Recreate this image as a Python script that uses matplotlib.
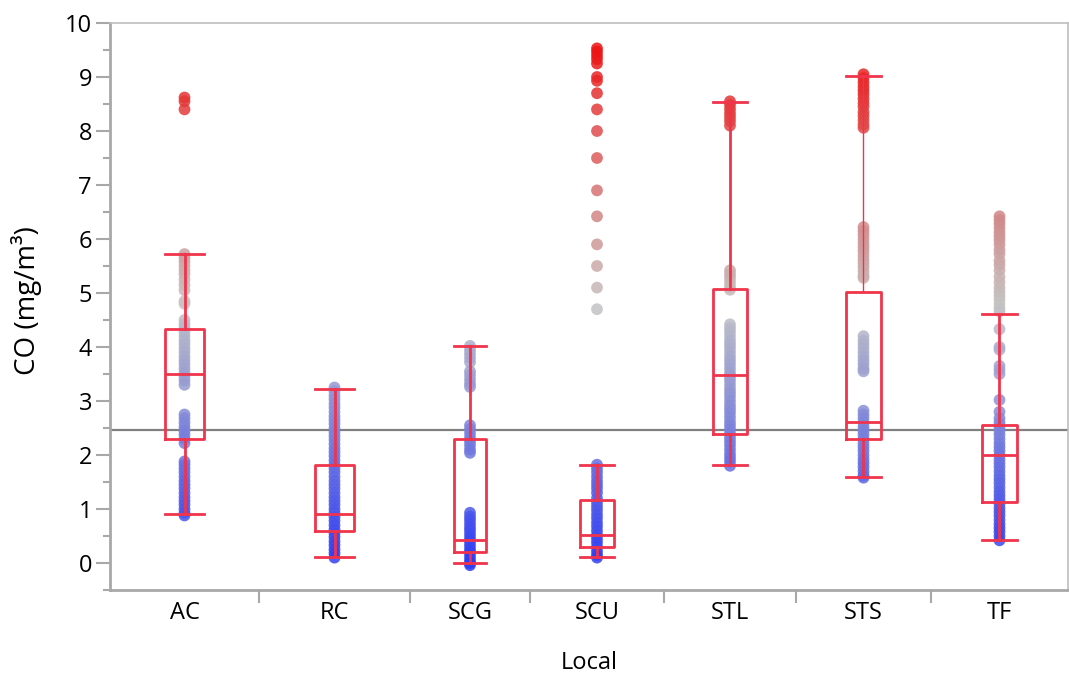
import numpy as np
import matplotlib.pyplot as plt
from matplotlib.colors import LinearSegmentedColormap, Normalize

plt.rcParams['font.family'] = ['Open Sans', 'DejaVu Sans']

# categories
sites = ['AC', 'RC', 'SCG', 'SCU', 'STL', 'STS', 'TF']

# CO readings per site (mg/m3)
co_ac = [8.62, 8.55, 8.4, 5.72, 5.65, 5.58, 5.5, 5.42, 5.35, 5.25, 5.15, 5.05, 4.85, 4.8,
         4.5, 4.42, 4.35, 4.28, 4.2, 4.12, 4.05, 3.97, 3.9, 3.82, 3.75, 3.68, 3.6, 3.52,
         3.45, 3.38, 3.3, 2.75, 2.68, 2.6, 2.52, 2.45, 2.38, 2.3, 2.22, 1.88, 1.82, 1.75,
         1.68, 1.6, 1.52, 1.45, 1.38, 1.3, 1.22, 1.15, 1.08, 1.0, 0.93, 0.88]
co_rc = [3.25, 3.18, 3.1, 3.03, 2.95, 2.88, 2.8, 2.72, 2.65, 2.58, 2.5, 2.42, 2.35, 2.28,
         2.2, 2.12, 2.05, 1.98, 1.9, 1.82, 1.75, 1.68, 1.6, 1.52, 1.45, 1.38, 1.3, 1.22,
         1.15, 1.08, 1.0, 0.93, 0.85, 0.78, 0.7, 0.62, 0.55, 0.48, 0.4, 0.33, 0.25, 0.18, 0.1]
co_scg = [4.02, 3.95, 3.88, 3.8, 3.72, 3.55, 3.48, 3.4, 3.32, 3.26, 2.55, 2.48, 2.4, 2.32,
          2.25, 2.18, 2.1, 2.04, 0.93, 0.86, 0.8, 0.73, 0.66, 0.6, 0.53, 0.46, 0.4, 0.33,
          0.26, 0.2, 0.13, 0.06, 0.0, -0.04]
co_scu = [9.53, 9.47, 9.4, 9.33, 9.25, 9.0, 8.93, 8.7, 8.4, 8.0, 7.5, 6.9, 6.42, 5.9, 5.5,
          5.1, 4.7, 1.82, 1.75, 1.68, 1.6, 1.52, 1.45, 1.38, 1.3, 1.2, 1.12, 1.05, 0.98,
          0.9, 0.83, 0.75, 0.68, 0.6, 0.52, 0.45, 0.38, 0.3, 0.22, 0.15, 0.1]
co_stl = [8.55, 8.48, 8.4, 8.32, 8.25, 8.18, 8.1, 5.42, 5.35, 5.28, 5.2, 5.12, 5.06,
          4.42, 4.35, 4.28, 4.2, 4.12, 4.05, 3.98, 3.9, 3.82, 3.75, 3.68, 3.6, 3.52, 3.45,
          3.38, 3.3, 3.22, 3.15, 3.08, 3.0, 2.92, 2.85, 2.78, 2.7, 2.62, 2.55, 2.48, 2.4,
          2.32, 2.25, 2.18, 2.1, 2.02, 1.95, 1.88, 1.8]
co_sts = [9.05, 8.98, 8.9, 8.82, 8.75, 8.68, 8.6, 8.52, 8.45, 8.35, 8.28, 8.2, 8.12, 8.06,
          6.22, 6.15, 6.08, 6.0, 5.92, 5.85, 5.78, 5.7, 5.62, 5.55, 5.48, 5.4, 5.32, 5.28,
          4.2, 4.12, 4.05, 3.98, 3.9, 3.82, 3.75, 3.68, 3.6, 3.55, 2.82, 2.75, 2.68, 2.6,
          2.52, 2.45, 2.38, 2.3, 2.22, 2.15, 2.08, 2.0, 1.92, 1.85, 1.78, 1.7, 1.62, 1.58]
co_tf = [6.42, 6.35, 6.28, 6.2, 6.12, 6.05, 5.98, 5.9, 5.8, 5.72, 5.6, 5.52, 5.42, 5.3,
         5.2, 5.1, 5.02, 4.95, 4.88, 4.8, 4.72, 4.66, 4.33, 4.0, 3.95, 3.65, 3.58, 3.5,
         3.02, 2.8, 2.68, 2.6, 2.52, 2.45, 2.38, 2.3, 2.22, 2.15, 2.08, 2.0, 1.92, 1.85,
         1.78, 1.7, 1.62, 1.55, 1.48, 1.4, 1.32, 1.25, 1.18, 1.1, 1.02, 0.95, 0.88, 0.8,
         0.72, 0.65, 0.58, 0.5, 0.42]
co_values = [co_ac, co_rc, co_scg, co_scu, co_stl, co_sts, co_tf]

# box plot summaries as drawn
whis_lo = [0.9, 0.12, 0.0, 0.12, 1.82, 1.6, 0.42]
q1 = [2.3, 0.6, 0.2, 0.3, 2.38, 2.29, 1.13]
med = [3.5, 0.9, 0.42, 0.51, 3.49, 2.62, 2.0]
q3 = [4.33, 1.82, 2.29, 1.17, 5.08, 5.02, 2.56]
whis_hi = [5.72, 3.22, 4.01, 1.82, 8.54, 9.01, 4.62]
overall_mean = 2.47

# layout: JMP gives each level a slot of its own width
slot_w = [149, 151, 120, 134, 132, 135, 137]
box_frac = 0.26

edges = np.concatenate([[0], np.cumsum(slot_w)])
centers = (edges[:-1] + edges[1:]) / 2
box_w = [w * box_frac for w in slot_w]

cmap = LinearSegmentedColormap.from_list('bgr', ['#2E3CF4', '#C4C4C4', '#EE1111'])
norm = Normalize(vmin=-0.05, vmax=9.55)
box_col = '#F0344C'
axis_col = '#A8A8A8'

fig = plt.figure(figsize=(10.69, 6.75), dpi=100)
ax = fig.add_axes([110 / 1069, 85 / 675, 958 / 1069, 567 / 675])

ax.axhline(overall_mean, color='#808080', lw=1.6, zorder=1.5)

for i, vals in enumerate(co_values):
    vals = np.array(vals)
    ax.scatter(np.full(len(vals), centers[i]), vals, c=vals, cmap=cmap, norm=norm,
               s=72, alpha=0.85, linewidths=0, zorder=2)

stats = []
for i in range(len(sites)):
    stats.append(dict(whislo=whis_lo[i], q1=q1[i], med=med[i], q3=q3[i],
                      whishi=whis_hi[i], fliers=[]))
line = dict(color=box_col, lw=2)
parts = ax.bxp(stats, positions=centers, widths=box_w, capwidths=box_w, showfliers=False,
               boxprops=line, whiskerprops=line, capprops=line, medianprops=line,
               manage_ticks=False, zorder=3)
# STS upper whisker is drawn thin in the original
parts['whiskers'][2 * 5 + 1].set_linewidth(1)

ax.set_xlim(0, edges[-1])
ax.set_ylim(-0.5, 10)

ax.set_xticks(edges[1:-1])
ax.set_xticklabels([])
ax.set_xticks(centers, minor=True)
ax.set_xticklabels(sites, minor=True, fontsize=17)
ax.tick_params(axis='x', which='major', length=9, width=1.5, color=axis_col)
ax.tick_params(axis='x', which='minor', length=0, pad=8)

ax.set_yticks(range(0, 11))
ax.set_yticks(np.arange(-0.5, 10, 1.0), minor=True)
ax.tick_params(axis='y', which='major', length=10, width=1.5, color=axis_col,
               labelsize=17, pad=3)
ax.tick_params(axis='y', which='minor', length=5, width=1.5, color=axis_col)

for s in ['left', 'bottom']:
    ax.spines[s].set_color(axis_col)
    ax.spines[s].set_linewidth(2)
for s in ['top', 'right']:
    ax.spines[s].set_color('#BDBDBD')
    ax.spines[s].set_linewidth(1.2)

fig.text(27 / 1069, 1 - 301 / 675, 'CO (mg/m³)', rotation=90, ha='center', va='center',
         fontsize=20)
fig.text(589 / 1069, 1 - 663 / 675, 'Local', ha='center', va='center', fontsize=17)

fig.savefig('out.png', dpi=100)
